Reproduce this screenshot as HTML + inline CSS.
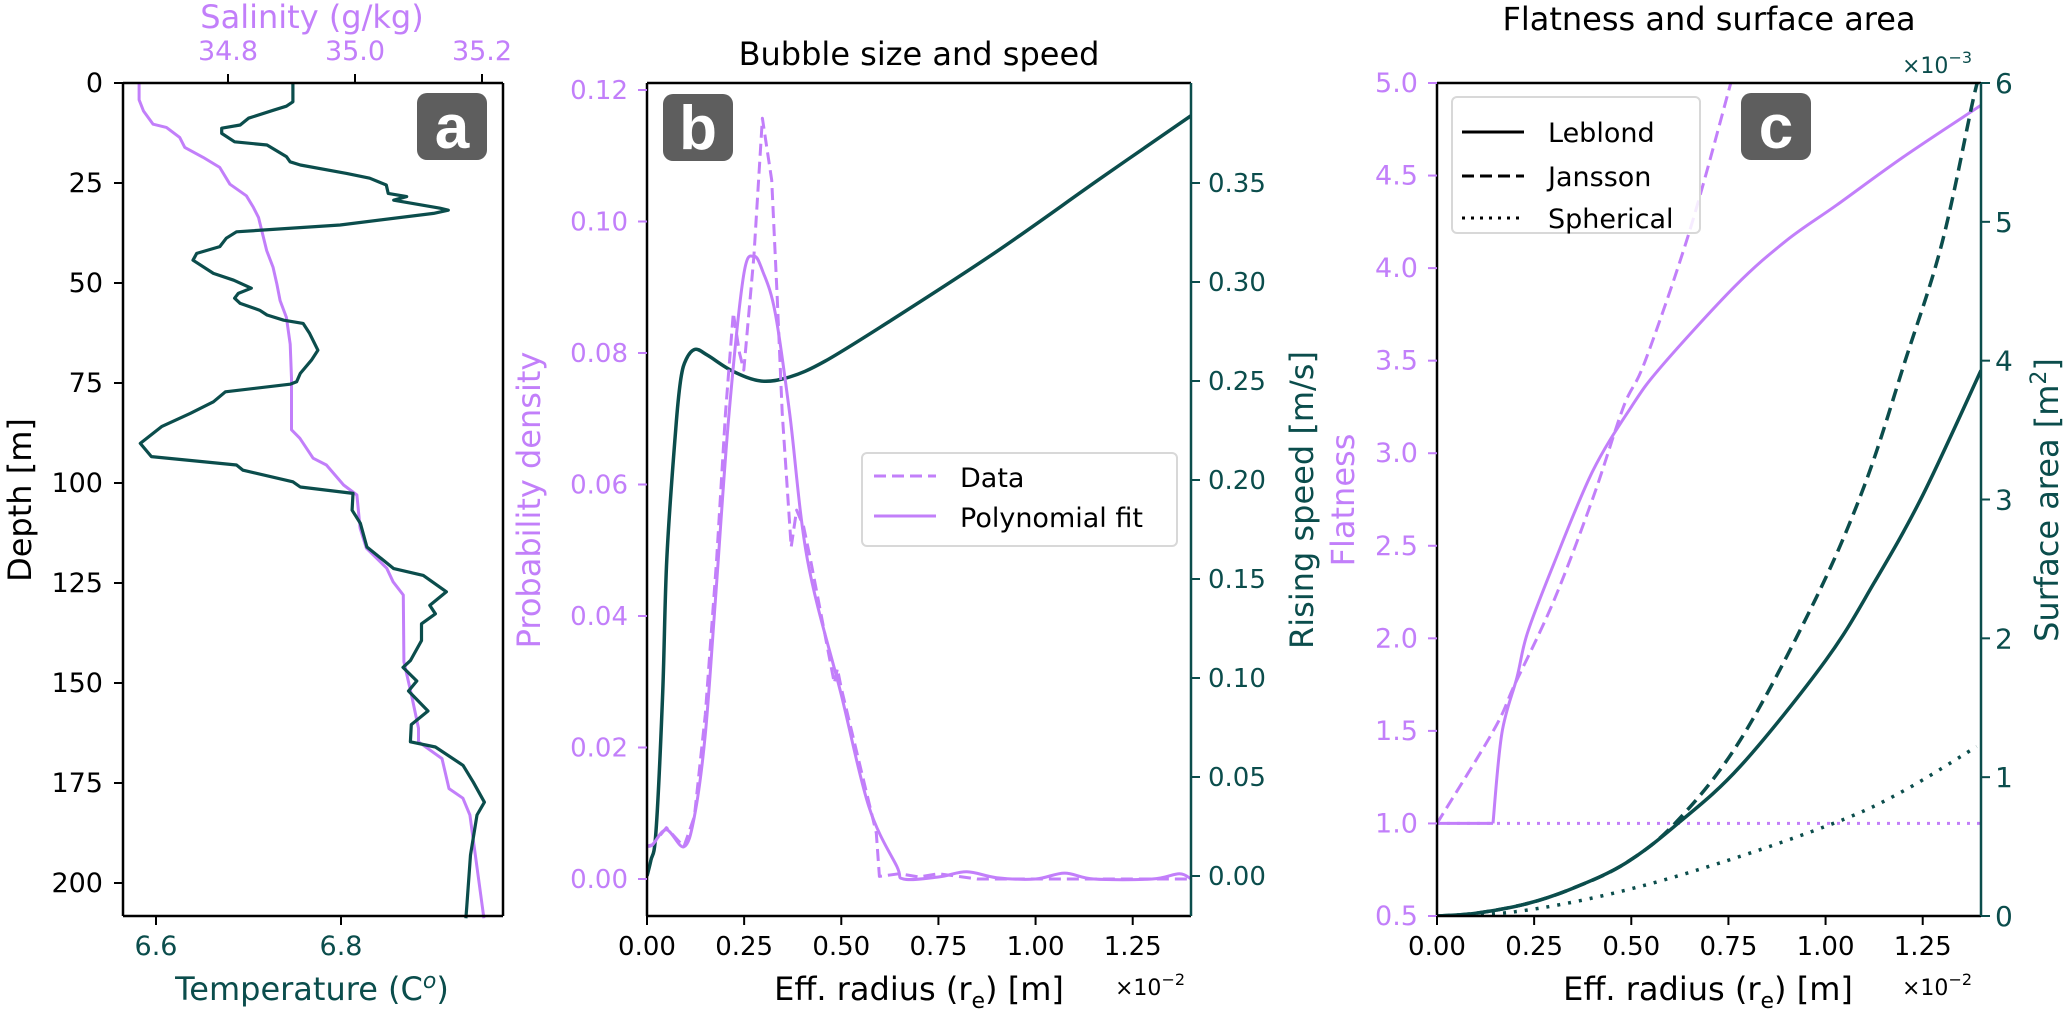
<!DOCTYPE html>
<html><head><meta charset="utf-8"><style>
html,body{margin:0;padding:0;background:#fff}
svg{display:block;font-family:"DejaVu Sans","Liberation Sans",sans-serif}
</style></head><body>
<svg id="fig" width="2067" height="1011" viewBox="0 0 2067 1011" xmlns="http://www.w3.org/2000/svg"></svg>
<script>
// ---------- Panel a data ----------
const tempDepth=[0,4.7,5.8,6.8,8.8,10.5,11.3,12.6,14.7,15.5,18.4,19.7,20.5,22.6,23.8,25.5,27.6,28.4,29.3,31.3,31.8,32.6,35.5,37.2,38.8,40.9,42.6,44.3,47.6,49.3,51.3,52.6,53.8,55.1,56.8,58,59.3,60.1,62.6,66.8,69.3,72.6,74.7,75.3,77.2,79.7,82.6,85.9,90.1,93.4,95.5,96.8,99.7,101,102.6,106.8,110.1,116,121.4,123.1,127.2,130.6,132.7,135.2,139.4,144.4,146.1,149.5,152,157,160.4,164.7,166,170.6,174.8,179.8,183,193,205.8,208.8];
const tempVals=[6.748,6.748,6.741,6.727,6.700,6.691,6.671,6.671,6.685,6.720,6.741,6.745,6.756,6.806,6.831,6.849,6.851,6.871,6.857,6.907,6.916,6.900,6.799,6.687,6.676,6.669,6.644,6.640,6.662,6.684,6.703,6.689,6.685,6.691,6.712,6.720,6.738,6.759,6.766,6.775,6.768,6.756,6.752,6.745,6.675,6.662,6.637,6.606,6.583,6.595,6.687,6.694,6.748,6.756,6.813,6.812,6.821,6.828,6.857,6.889,6.914,6.896,6.902,6.887,6.887,6.875,6.867,6.882,6.873,6.894,6.876,6.875,6.902,6.932,6.943,6.955,6.947,6.940,6.936,6.935];
const salDepth=[0,4.2,7,10.3,11.1,13.6,16.1,18.6,21.1,25.3,28.2,31.1,33.6,41.9,46.1,50.3,54.4,58.6,65.3,73.8,86.7,88.8,93.8,95.5,100.5,103,111.3,116.3,121.3,124.7,128,144.7,153,161.3,164.7,168.9,176.4,178.8,183,208.8];
const salVals=[34.660,34.660,34.667,34.682,34.703,34.724,34.732,34.761,34.787,34.803,34.829,34.840,34.848,34.861,34.871,34.877,34.882,34.892,34.898,34.900,34.900,34.913,34.934,34.955,34.982,35.003,35.008,35.018,35.050,35.060,35.076,35.077,35.089,35.100,35.100,35.137,35.148,35.170,35.181,35.203];
const depthTicks=[0,25,50,75,100,125,150,175,200];
const tempTicks=[6.6,6.8];
const salTicks=[34.8,35.0,35.2];
// ---------- Panel b data ----------
const speedR=[0,0.01,0.023,0.04,0.051,0.074,0.087,0.101,0.124,0.156,0.22,0.293,0.367,0.458,0.623,0.897,1.172,1.4];
const speedV=[0,0.008,0.022,0.09,0.16,0.226,0.251,0.261,0.266,0.263,0.255,0.250,0.252,0.260,0.280,0.315,0.353,0.384];
const dataR=[0,0.014,0.05,0.095,0.122,0.15,0.179,0.202,0.222,0.238,0.249,0.275,0.297,0.321,0.335,0.348,0.371,0.385,0.403,0.421,0.482,0.49,0.5,0.59,0.598,0.65,0.7,0.75,0.85,1.4];
const dataP=[0.005,0.0052,0.0078,0.0049,0.0095,0.025,0.0485,0.0709,0.0861,0.080,0.0774,0.0947,0.1157,0.1063,0.0885,0.0709,0.0505,0.0561,0.0536,0.0485,0.0298,0.032,0.029,0.007,0.0004,0.0008,0.0003,0.0008,0,0];
const fitR=[0,0.014,0.05,0.095,0.122,0.15,0.176,0.21,0.248,0.275,0.298,0.33,0.367,0.413,0.5,0.571,0.643,0.66,0.75,0.823,0.9,1.0,1.075,1.15,1.3,1.37,1.4];
const fitP=[0.005,0.0052,0.0075,0.0049,0.0095,0.022,0.0424,0.07,0.0916,0.0947,0.0924,0.0861,0.0709,0.0485,0.028,0.011,0.0019,0,0.0003,0.0011,0.0002,0,0.0009,0,0,0.0008,0];
const probTicks=[0,0.02,0.04,0.06,0.08,0.10,0.12];
const speedTicks=[0,0.05,0.10,0.15,0.20,0.25,0.30,0.35];
const radTicks=[0,0.25,0.5,0.75,1.0,1.25];
// ---------- Panel c data ----------
const lebFR=[0,0.144,0.167,0.206,0.233,0.3,0.4,0.5,0.578,0.766,0.9,1.028,1.2,1.4];
const lebF=[1.0,1.0,1.488,1.79,2.03,2.4,2.9,3.25,3.47,3.9,4.15,4.34,4.6,4.88];
const janFR=[0,0.145,0.2,0.3,0.4,0.48,0.536,0.65,0.756];
const janF=[1.0,1.5,1.75,2.2,2.75,3.25,3.5,4.2,5.0];
const sphFR=[0,1.4];
const sphF=[1.0,1.0];
const lebSR=[0,0.1,0.233,0.35,0.485,0.617,0.781,1.0,1.125,1.25,1.4];
const lebS=[0,0.02,0.09,0.2,0.38,0.66,1.08,1.84,2.4,3.03,3.93];
const janSR=[0,0.1,0.233,0.35,0.485,0.617,0.781,0.972,1.1,1.205,1.3,1.383,1.4];
const janS=[0,0.02,0.09,0.2,0.38,0.68,1.27,2.27,3.1,4.0,4.85,5.92,6.05];
const sphSR=[0,0.2,0.452,0.726,1.032,1.2,1.389];
const sphS=[0,0.03,0.163,0.38,0.68,0.9,1.22];
const flatTicks=[0.5,1.0,1.5,2.0,2.5,3.0,3.5,4.0,4.5,5.0];
const areaTicks=[0,1,2,3,4,5,6];

const NS='http://www.w3.org/2000/svg';
const svg=document.getElementById('fig');
const TEAL='#0b4d4c', PURP='#c27ffa';
function mk(tag,attrs,parent){const e=document.createElementNS(NS,tag);for(const k in attrs)e.setAttribute(k,attrs[k]);(parent||svg).appendChild(e);return e;}
function txt(s,x,y,size,fill,anchor,rot){const e=mk('text',{x:x,y:y,'font-size':size,fill:fill,'text-anchor':anchor||'middle'});if(rot)e.setAttribute('transform','rotate('+rot+' '+x+' '+y+')');e.textContent=s;return e;}
function lin(d0,d1,p0,p1){return v=>p0+(v-d0)*(p1-p0)/(d1-d0);}
function path(xs,ys,fx,fy,stroke,dash,w,smooth){
  const P=xs.map((x,i)=>[fx(x),fy(ys[i])]);
  let d='M'+P[0][0].toFixed(1)+' '+P[0][1].toFixed(1);
  for(let i=1;i<P.length;i++){
    if(smooth){const p0=P[Math.max(0,i-2)],p1=P[i-1],p2=P[i],p3=P[Math.min(P.length-1,i+1)];
      const c1=[p1[0]+(p2[0]-p0[0])/6,p1[1]+(p2[1]-p0[1])/6],c2=[p2[0]-(p3[0]-p1[0])/6,p2[1]-(p3[1]-p1[1])/6];
      d+='C'+c1[0].toFixed(1)+' '+c1[1].toFixed(1)+' '+c2[0].toFixed(1)+' '+c2[1].toFixed(1)+' '+p2[0].toFixed(1)+' '+p2[1].toFixed(1);}
    else d+='L'+P[i][0].toFixed(1)+' '+P[i][1].toFixed(1);
  }
  const p=mk('path',{d:d,fill:'none',stroke:stroke,'stroke-width':w||3,'stroke-linejoin':'round'});if(dash)p.setAttribute('stroke-dasharray',dash);return p;}
function fmt(v,n){return v.toFixed(n);}
const TS=26, LS=32;
function box(x0,y0,x1,y1,cl,cr){mk('line',{x1:x0,y1:y0,x2:x1,y2:y0,stroke:'#000','stroke-width':2.5});mk('line',{x1:x0,y1:y1,x2:x1,y2:y1,stroke:'#000','stroke-width':2.5});mk('line',{x1:x0,y1:y0,x2:x0,y2:y1,stroke:cl,'stroke-width':2.5});mk('line',{x1:x1,y1:y0,x2:x1,y2:y1,stroke:cr,'stroke-width':2.5});}
function badge(x,y,ch){const g=mk('g',{});mk('rect',{x:x,y:y,width:70,height:67,rx:10,fill:'#5e5e5e'},g);const t=mk('text',{x:x+35,y:y+55,'font-size':62,'font-weight':'bold',fill:'#fff','text-anchor':'middle','font-family':'Liberation Sans, sans-serif'},g);t.textContent=ch;return g;}

// ===== Panel a =====
const aX0=123,aX1=503,Y0=83,Y1=916;
const aY=lin(0,208.25,Y0,Y1), aT=lin(6.6,6.8,156,341), aS=lin(34.8,35.0,228,355);
let g;
g=path(salVals,salDepth,aS,aY,PURP,null,3);

g=path(tempVals,tempDepth,aT,aY,TEAL,null,3.2);

box(aX0,Y0,aX1,Y1,'#000','#000');
depthTicks.forEach(d=>{const y=aY(d);mk('line',{x1:aX0-9,y1:y,x2:aX0,y2:y,stroke:'#000','stroke-width':2});const t=txt(String(d),103,y+9,TS+1,'#000','end');});
tempTicks.forEach(v=>{const x=aT(v);mk('line',{x1:x,y1:Y1,x2:x,y2:Y1+9,stroke:'#000','stroke-width':2});const t=txt(fmt(v,1),x,955,TS+1,TEAL);});
salTicks.forEach(v=>{const x=aS(v);mk('line',{x1:x,y1:Y0-9,x2:x,y2:Y0,stroke:'#000','stroke-width':2});const t=txt(fmt(v,1),x,60,TS+1,PURP);});
g=txt('Depth [m]',31,500,LS,'#000','middle',-90);
g=mk('text',{x:312,y:1000,'font-size':LS,fill:TEAL,'text-anchor':'middle'});g.innerHTML='Temperature (C<tspan dy="-12" font-size="22" font-style="italic">o</tspan><tspan dy="12">)</tspan>';

g=txt('Salinity (g/kg)',312,28,LS,PURP);
g=badge(417,93,'a');

// ===== Panel b =====
const bX0=647,bX1=1191;
const bX=lin(0,1.4,bX0,bX1), bP=lin(0,0.12,879,90), bV=lin(0,0.35,876,183);
const clipB=mk('clipPath',{id:'cb'});mk('rect',{x:bX0,y:Y0,width:bX1-bX0,height:Y1-Y0},clipB);
g=path(speedR,speedV,bX,bV,TEAL,null,3.5,true);g.setAttribute('clip-path','url(#cb)');

g=path(dataR,dataP,bX,bP,PURP,'12,6',3);g.setAttribute('clip-path','url(#cb)');

g=path(fitR,fitP,bX,bP,PURP,null,3,true);g.setAttribute('clip-path','url(#cb)');

box(bX0,Y0,bX1,Y1,'#000',TEAL);
probTicks.forEach(v=>{const y=bP(v);mk('line',{x1:bX0-9,y1:y,x2:bX0,y2:y,stroke:PURP,'stroke-width':2});const t=txt(fmt(v,2),628,y+9,TS,PURP,'end');});
speedTicks.forEach(v=>{const y=bV(v);mk('line',{x1:bX1,y1:y,x2:bX1+9,y2:y,stroke:TEAL,'stroke-width':2});const t=txt(fmt(v,2),1208,y+9,TS,TEAL,'start');});
radTicks.forEach(v=>{const x=bX(v);mk('line',{x1:x,y1:Y1,x2:x,y2:Y1+9,stroke:'#000','stroke-width':2});const t=txt(fmt(v,2),x,955,TS,'#000');});
g=txt('Probability density',540,500,LS,PURP,'middle',-90);
g=txt('Rising speed [m/s]',1313,500,LS,TEAL,'middle',-90);
g=mk('text',{x:919,y:1000,'font-size':LS,fill:'#000','text-anchor':'middle'});g.innerHTML='Eff. radius (r<tspan dy="8" font-size="22">e</tspan><tspan dy="-8">) [m]</tspan>';

g=mk('text',{x:1115,y:995,'font-size':22,fill:'#000'});g.innerHTML='×10<tspan dy="-10" font-size="16">−2</tspan>';

g=txt('Bubble size and speed',919,65,LS,'#000');
g=badge(663,94,'b');
// legend b
g=mk('g',{});
mk('rect',{x:862,y:453,width:315,height:93,rx:5,fill:'#fff',stroke:'#d8d8d8','stroke-width':2},g);
mk('line',{x1:874,y1:476,x2:936,y2:476,stroke:PURP,'stroke-width':3,'stroke-dasharray':'12,6'},g);
mk('line',{x1:874,y1:516,x2:936,y2:516,stroke:PURP,'stroke-width':3},g);
let lt=mk('text',{x:960,y:487,'font-size':TS+1,fill:'#000'},g);lt.textContent='Data';
lt=mk('text',{x:960,y:527,'font-size':TS+1,fill:'#000'},g);lt.textContent='Polynomial fit';

// ===== Panel c =====
const cX0=1437,cX1=1981;
const cX=lin(0,1.4,cX0,cX1), cF=lin(0.5,5.0,Y1,Y0), cS=lin(0,6,Y1,Y0);
const clipC=mk('clipPath',{id:'cc'});mk('rect',{x:cX0,y:Y0,width:cX1-cX0,height:Y1-Y0},clipC);
function cl(p,n){p.setAttribute('clip-path','url(#cc)');}
cl(path(sphFR,sphF,cX,cF,PURP,'3,7',3),'spherical-flatness-line');
cl(path(janFR,janF,cX,cF,PURP,'12,6',3,true),'jansson-flatness-line');
cl(path(lebFR.slice(0,2),lebF.slice(0,2),cX,cF,PURP,null,3),'leblond-flatness-flat');
cl(path(lebFR.slice(1),lebF.slice(1),cX,cF,PURP,null,3,true),'leblond-flatness-line');
cl(path(sphSR,sphS,cX,cS,TEAL,'3,8',3.5,true),'spherical-area-line');
cl(path(janSR,janS,cX,cS,TEAL,'13,7',3.5,true),'jansson-area-line');
cl(path(lebSR,lebS,cX,cS,TEAL,null,3.5,true),'leblond-area-line');
box(cX0,Y0,cX1,Y1,'#000',TEAL);
flatTicks.forEach(v=>{const y=cF(v);mk('line',{x1:cX0-9,y1:y,x2:cX0,y2:y,stroke:PURP,'stroke-width':2});const t=txt(fmt(v,1),1418,y+9,TS+1,PURP,'end');});
areaTicks.forEach(v=>{const y=cS(v);mk('line',{x1:cX1,y1:y,x2:cX1+9,y2:y,stroke:TEAL,'stroke-width':2});const t=txt(String(v),1995,y+10,TS+2,TEAL,'start');});
radTicks.forEach(v=>{const x=cX(v);mk('line',{x1:x,y1:Y1,x2:x,y2:Y1+9,stroke:'#000','stroke-width':2});const t=txt(fmt(v,2),x,955,TS,'#000');});
g=txt('Flatness',1354,500,LS,PURP,'middle',-90);
g=mk('text',{x:2058,y:500,'font-size':LS,fill:TEAL,'text-anchor':'middle',transform:'rotate(-90 2058 500)'});g.innerHTML='Surface area [m<tspan dy="-12" font-size="22">2</tspan><tspan dy="12">]</tspan>';

g=mk('text',{x:1708,y:1000,'font-size':LS,fill:'#000','text-anchor':'middle'});g.innerHTML='Eff. radius (r<tspan dy="8" font-size="22">e</tspan><tspan dy="-8">) [m]</tspan>';

g=mk('text',{x:1902,y:995,'font-size':22,fill:'#000'});g.innerHTML='×10<tspan dy="-10" font-size="16">−2</tspan>';

g=mk('text',{x:1902,y:73,'font-size':22,fill:TEAL});g.innerHTML='×10<tspan dy="-10" font-size="16">−3</tspan>';

g=txt('Flatness and surface area',1709,30,LS,'#000');
g=badge(1741,93,'c');
g=mk('g',{});
mk('rect',{x:1452,y:97,width:248,height:136,rx:5,fill:'#fff','fill-opacity':0.85,stroke:'#d8d8d8','stroke-width':2},g);
mk('line',{x1:1462,y1:132,x2:1524,y2:132,stroke:'#000','stroke-width':3},g);
mk('line',{x1:1462,y1:176,x2:1524,y2:176,stroke:'#000','stroke-width':3,'stroke-dasharray':'12,6'},g);
mk('line',{x1:1462,y1:218,x2:1524,y2:218,stroke:'#000','stroke-width':3,'stroke-dasharray':'3,6'},g);
lt=mk('text',{x:1548,y:142,'font-size':TS+1,fill:'#000'},g);lt.textContent='Leblond';
lt=mk('text',{x:1548,y:186,'font-size':TS+1,fill:'#000'},g);lt.textContent='Jansson';
lt=mk('text',{x:1548,y:228,'font-size':TS+1,fill:'#000'},g);lt.textContent='Spherical';
</script>
</body></html>
